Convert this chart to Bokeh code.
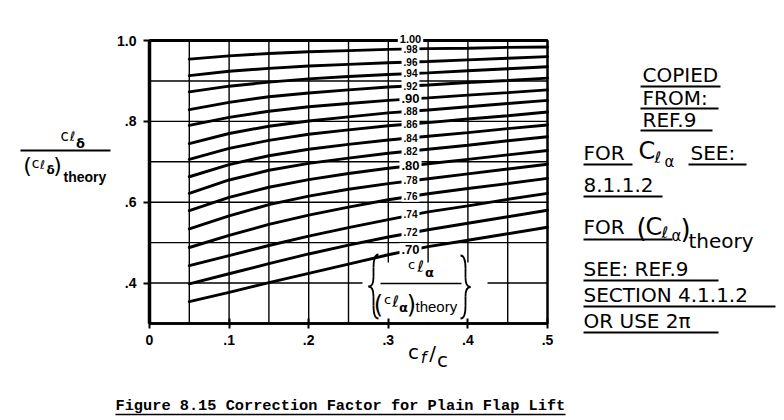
from bokeh.plotting import figure
from bokeh.models import FixedTicker, Range1d, LinearAxis
from bokeh.embed import file_html
from bokeh.resources import INLINE
from bokeh.core.properties import value

# ---------------- data ----------------
cf_over_c = [0.05, 0.10, 0.15, 0.20, 0.25, 0.30, 0.35, 0.40, 0.45, 0.50]

ratio_labels = [".98", ".96", ".94", ".92", ".90", ".88", ".86", ".84",
                ".82", ".80", ".78", ".76", ".74", ".72", ".70"]
top_label = "1.00"

r98 = [0.954, 0.962, 0.968, 0.972, 0.975, 0.978, 0.980, 0.981, 0.983, 0.984]
r96 = [0.913, 0.924, 0.931, 0.937, 0.941, 0.945, 0.948, 0.952, 0.956, 0.960]
r94 = [0.873, 0.887, 0.897, 0.905, 0.911, 0.916, 0.920, 0.925, 0.930, 0.935]
r92 = [0.829, 0.847, 0.861, 0.870, 0.878, 0.885, 0.890, 0.896, 0.901, 0.907]
r90 = [0.790, 0.810, 0.825, 0.836, 0.844, 0.852, 0.858, 0.865, 0.871, 0.878]
r88 = [0.745, 0.770, 0.788, 0.801, 0.811, 0.821, 0.828, 0.836, 0.844, 0.852]
r86 = [0.706, 0.733, 0.753, 0.768, 0.779, 0.789, 0.797, 0.806, 0.814, 0.823]
r84 = [0.663, 0.693, 0.715, 0.731, 0.743, 0.754, 0.763, 0.772, 0.782, 0.791]
r82 = [0.622, 0.655, 0.679, 0.696, 0.709, 0.721, 0.731, 0.741, 0.752, 0.762]
r80 = [0.579, 0.612, 0.637, 0.656, 0.671, 0.684, 0.695, 0.706, 0.717, 0.728]
r78 = [0.534, 0.566, 0.594, 0.615, 0.632, 0.646, 0.658, 0.670, 0.682, 0.694]
r76 = [0.488, 0.518, 0.545, 0.568, 0.588, 0.606, 0.621, 0.634, 0.646, 0.659]
r74 = [0.443, 0.468, 0.493, 0.516, 0.537, 0.557, 0.576, 0.591, 0.607, 0.622]
r72 = [0.398, 0.423, 0.448, 0.472, 0.494, 0.514, 0.532, 0.548, 0.564, 0.580]
r70 = [0.354, 0.377, 0.401, 0.424, 0.447, 0.470, 0.490, 0.506, 0.522, 0.538]
curves = [r98, r96, r94, r92, r90, r88, r86, r84, r82, r80, r78, r76, r74, r72, r70]

x_ticks = [0.0, 0.1, 0.2, 0.3, 0.4, 0.5]
x_tick_labels = ["0", ".1", ".2", ".3", ".4", ".5"]
y_ticks = [0.4, 0.6, 0.8, 1.0]
y_tick_labels = [".4", ".6", ".8", "1.0"]
x_grid = [0.05, 0.10, 0.15, 0.20, 0.25, 0.30, 0.35, 0.40, 0.45]
y_grid = [0.4, 0.5, 0.6, 0.7, 0.8, 0.9]

caption = "Figure 8.15 Correction Factor for Plain Flap Lift"
notes = ["COPIED", "FROM:", "REF.9", "FOR", "SEE:", "8.1.1.2", "FOR",
         "SEE:  REF.9", "SECTION 4.1.1.2", "OR USE 2π"]

# ---------------- geometry (page pixels of the chart frame) ----------------
W, H = 784, 420
FR_L, FR_R, FR_T, FR_B = 149, 547, 40, 323
X0, X1, Y0, Y1 = 0.0, 0.5, 0.3, 1.0


def X(px):
    return X0 + (px - FR_L) / (FR_R - FR_L) * (X1 - X0)


def Y(py):
    return Y1 - (py - FR_T) / (FR_B - FR_T) * (Y1 - Y0)


p = figure(width=W, height=H, x_range=Range1d(X(0), X(W)), y_range=Range1d(Y(H), Y(0)),
           output_backend="svg", toolbar_location=None,
           x_axis_location=None, y_axis_location=None, min_border=0)
p.title.visible = False
p.grid.visible = False
p.outline_line_color = None
p.background_fill_color = "white"
p.border_fill_color = "white"


def txt(x, y, s, size, font="DejaVu Sans", style="normal", align="left",
        baseline="middle", bg=None):
    kw = {}
    if bg is not None:
        kw["background_fill_color"] = bg
        kw["padding"] = 2
    p.text(x=[x], y=[y], text=[s], text_font=value(font),
           text_font_size=f"{size}px", text_font_style=style,
           text_align=align, text_baseline=baseline, text_color="black", **kw)


def hline(px0, px1, py, w=2.0):
    p.segment(x0=[X(px0)], y0=[Y(py)], x1=[X(px1)], y1=[Y(py)],
              line_color="black", line_width=w)


# ---------------- grid + frame ----------------
p.segment(x0=x_grid, y0=[Y0] * len(x_grid), x1=x_grid, y1=[Y1] * len(x_grid),
          line_color="black", line_width=1.4)
p.segment(x0=[X0] * len(y_grid), y0=y_grid, x1=[X1] * len(y_grid), y1=y_grid,
          line_color="black", line_width=1.4)
p.quad(left=[X0], right=[X1], bottom=[Y0], top=[Y1], fill_color=None,
       line_color="black", line_width=2.5)
p.segment(x0=[X0], y0=[Y1], x1=[X1], y1=[Y1], line_color="black", line_width=3.2)

# ---------------- axes ----------------
xax = LinearAxis(fixed_location=Y0, bounds=(X0, X1), ticker=FixedTicker(ticks=x_ticks),
                 major_label_overrides={t: s for t, s in zip(x_ticks, x_tick_labels)})
yax = LinearAxis(fixed_location=X0, bounds=(Y0, Y1), ticker=FixedTicker(ticks=y_ticks),
                 major_label_overrides={t: s for t, s in zip(y_ticks, y_tick_labels)})
for ax in (xax, yax):
    ax.major_label_text_font = "Liberation Sans"
    ax.major_label_text_font_style = "bold"
    ax.major_label_text_font_size = "14px"
    ax.major_label_text_color = "black"
    ax.axis_line_color = "black"
    ax.major_tick_line_color = "black"
    ax.major_tick_line_width = 2
    ax.minor_tick_line_color = None
xax.axis_line_width = 2.5
xax.major_tick_in = 5
xax.major_tick_out = 5
xax.major_label_standoff = 6
yax.axis_line_width = 3.5
yax.major_tick_in = 0
yax.major_tick_out = 6
yax.major_label_standoff = 7
p.add_layout(xax, "below")
p.add_layout(yax, "left")

# ---------------- curves ----------------
for c in curves:
    p.line(cf_over_c, c, line_color="black", line_width=2.9, line_cap="round")

LX = X(410)
for lab, c in zip(ratio_labels, curves):
    ly = (c[5] + 2 * c[6]) / 3
    big = lab in (".90", ".80", ".70")
    txt(LX, ly, lab, 13 if big else 10, font="Liberation Sans", style="bold",
        align="center", bg="white")
txt(LX, Y(38), top_label, 11, font="Liberation Sans", style="bold", align="center", bg="white")

# ---------------- bracketed parameter label ----------------
p.quad(left=[X(362)], right=[X(487)], bottom=[Y0 + 0.004], top=[Y(262)],
       fill_color="white", line_color=None)


def brace(cx, top, bot, w):
    mid = (top + bot) / 2.0
    h = bot - top
    segs = [((cx + w, top), (cx, top), (cx, top + 0.2 * h)),
            ((cx, mid - 0.15 * h), (cx, mid), (cx - w, mid)),
            ((cx - w, mid), (cx, mid), (cx, mid + 0.15 * h)),
            ((cx, bot - 0.2 * h), (cx, bot), (cx + w, bot))]
    for (a, b, e) in segs:
        p.quadratic(x0=[X(a[0])], y0=[Y(a[1])], cx=[X(b[0])], cy=[Y(b[1])],
                    x1=[X(e[0])], y1=[Y(e[1])], line_color="black", line_width=1.8)
    p.segment(x0=[X(cx), X(cx)], y0=[Y(top + 0.2 * h), Y(mid + 0.15 * h)],
              x1=[X(cx), X(cx)], y1=[Y(mid - 0.15 * h), Y(bot - 0.2 * h)],
              line_color="black", line_width=1.8)


brace(373, 254, 318, 5)
brace(465, 255, 318, -5)
txt(X(411), Y(264), "c", 13, align="center")
txt(X(420), Y(266), "ℓ", 16, align="center")
txt(X(429), Y(272), "α", 13, style="bold", align="center")
hline(380, 461, 283, 1.6)
txt(X(378), Y(304), "(", 24, align="center")
txt(X(387), Y(299), "c", 13, align="center")
txt(X(395), Y(301), "ℓ", 16, align="center")
txt(X(403), Y(307), "α", 13, style="bold", align="center")
txt(X(411), Y(304), ")", 24, align="center")
txt(X(415), Y(306), "theory", 15, font="Liberation Sans")

# x-axis label  c_f / c
txt(X(413), Y(351), "c", 20, align="center")
txt(X(423), Y(357), "f", 16, style="italic", align="center")
txt(X(432), Y(352), "/", 20, align="center")
txt(X(442), Y(359), "c", 20, align="center")

# ---------------- y-axis label ----------------
txt(X(64), Y(135), "c", 15, align="center")
txt(X(72), Y(136), "ℓ", 13, align="center")
txt(X(80), Y(143), "δ", 13, style="bold", align="center")
hline(20, 110, 150, 2)
txt(X(27), Y(165), "(", 22, align="center")
txt(X(35), Y(162), "c", 14, align="center")
txt(X(42), Y(164), "ℓ", 12, align="center")
txt(X(50), Y(169), "δ", 12, style="bold", align="center")
txt(X(57), Y(165), ")", 22, align="center")
txt(X(63), Y(176), "theory", 14, font="Liberation Sans", style="bold")

# ---------------- notes (right) ----------------
note_pos = [(642, 74), (642, 97), (642, 119), (583, 152), (690, 152), (583, 184),
            (583, 226), (583, 268), (583, 294), (583, 320)]
for s, (x, y) in zip(notes, note_pos):
    txt(X(x), Y(y), s, 20)
txt(X(638), Y(150), "C", 24)
txt(X(654), Y(157), "ℓ", 16)
txt(X(664), Y(161), "α", 15)
txt(X(636), Y(227), "(", 26)
txt(X(645), Y(226), "C", 24)
txt(X(661), Y(232), "ℓ", 16)
txt(X(671), Y(235), "α", 15)
txt(X(680), Y(228), ")", 26)
txt(X(688), Y(240), "theory", 20)
for (a, b, y) in [(640, 720, 86), (640, 718, 108), (640, 712, 130),
                  (583, 632, 164), (688, 746, 164), (583, 662, 196),
                  (583, 672, 239), (583, 718, 280), (583, 775, 306), (583, 718, 332)]:
    hline(a, b, y, 2)

# ---------------- caption ----------------
txt(X(115), Y(405), caption, 15.3, font="Liberation Mono", style="bold")
hline(115, 565, 414, 1.5)

open("out.html", "w").write(file_html(p, INLINE))
